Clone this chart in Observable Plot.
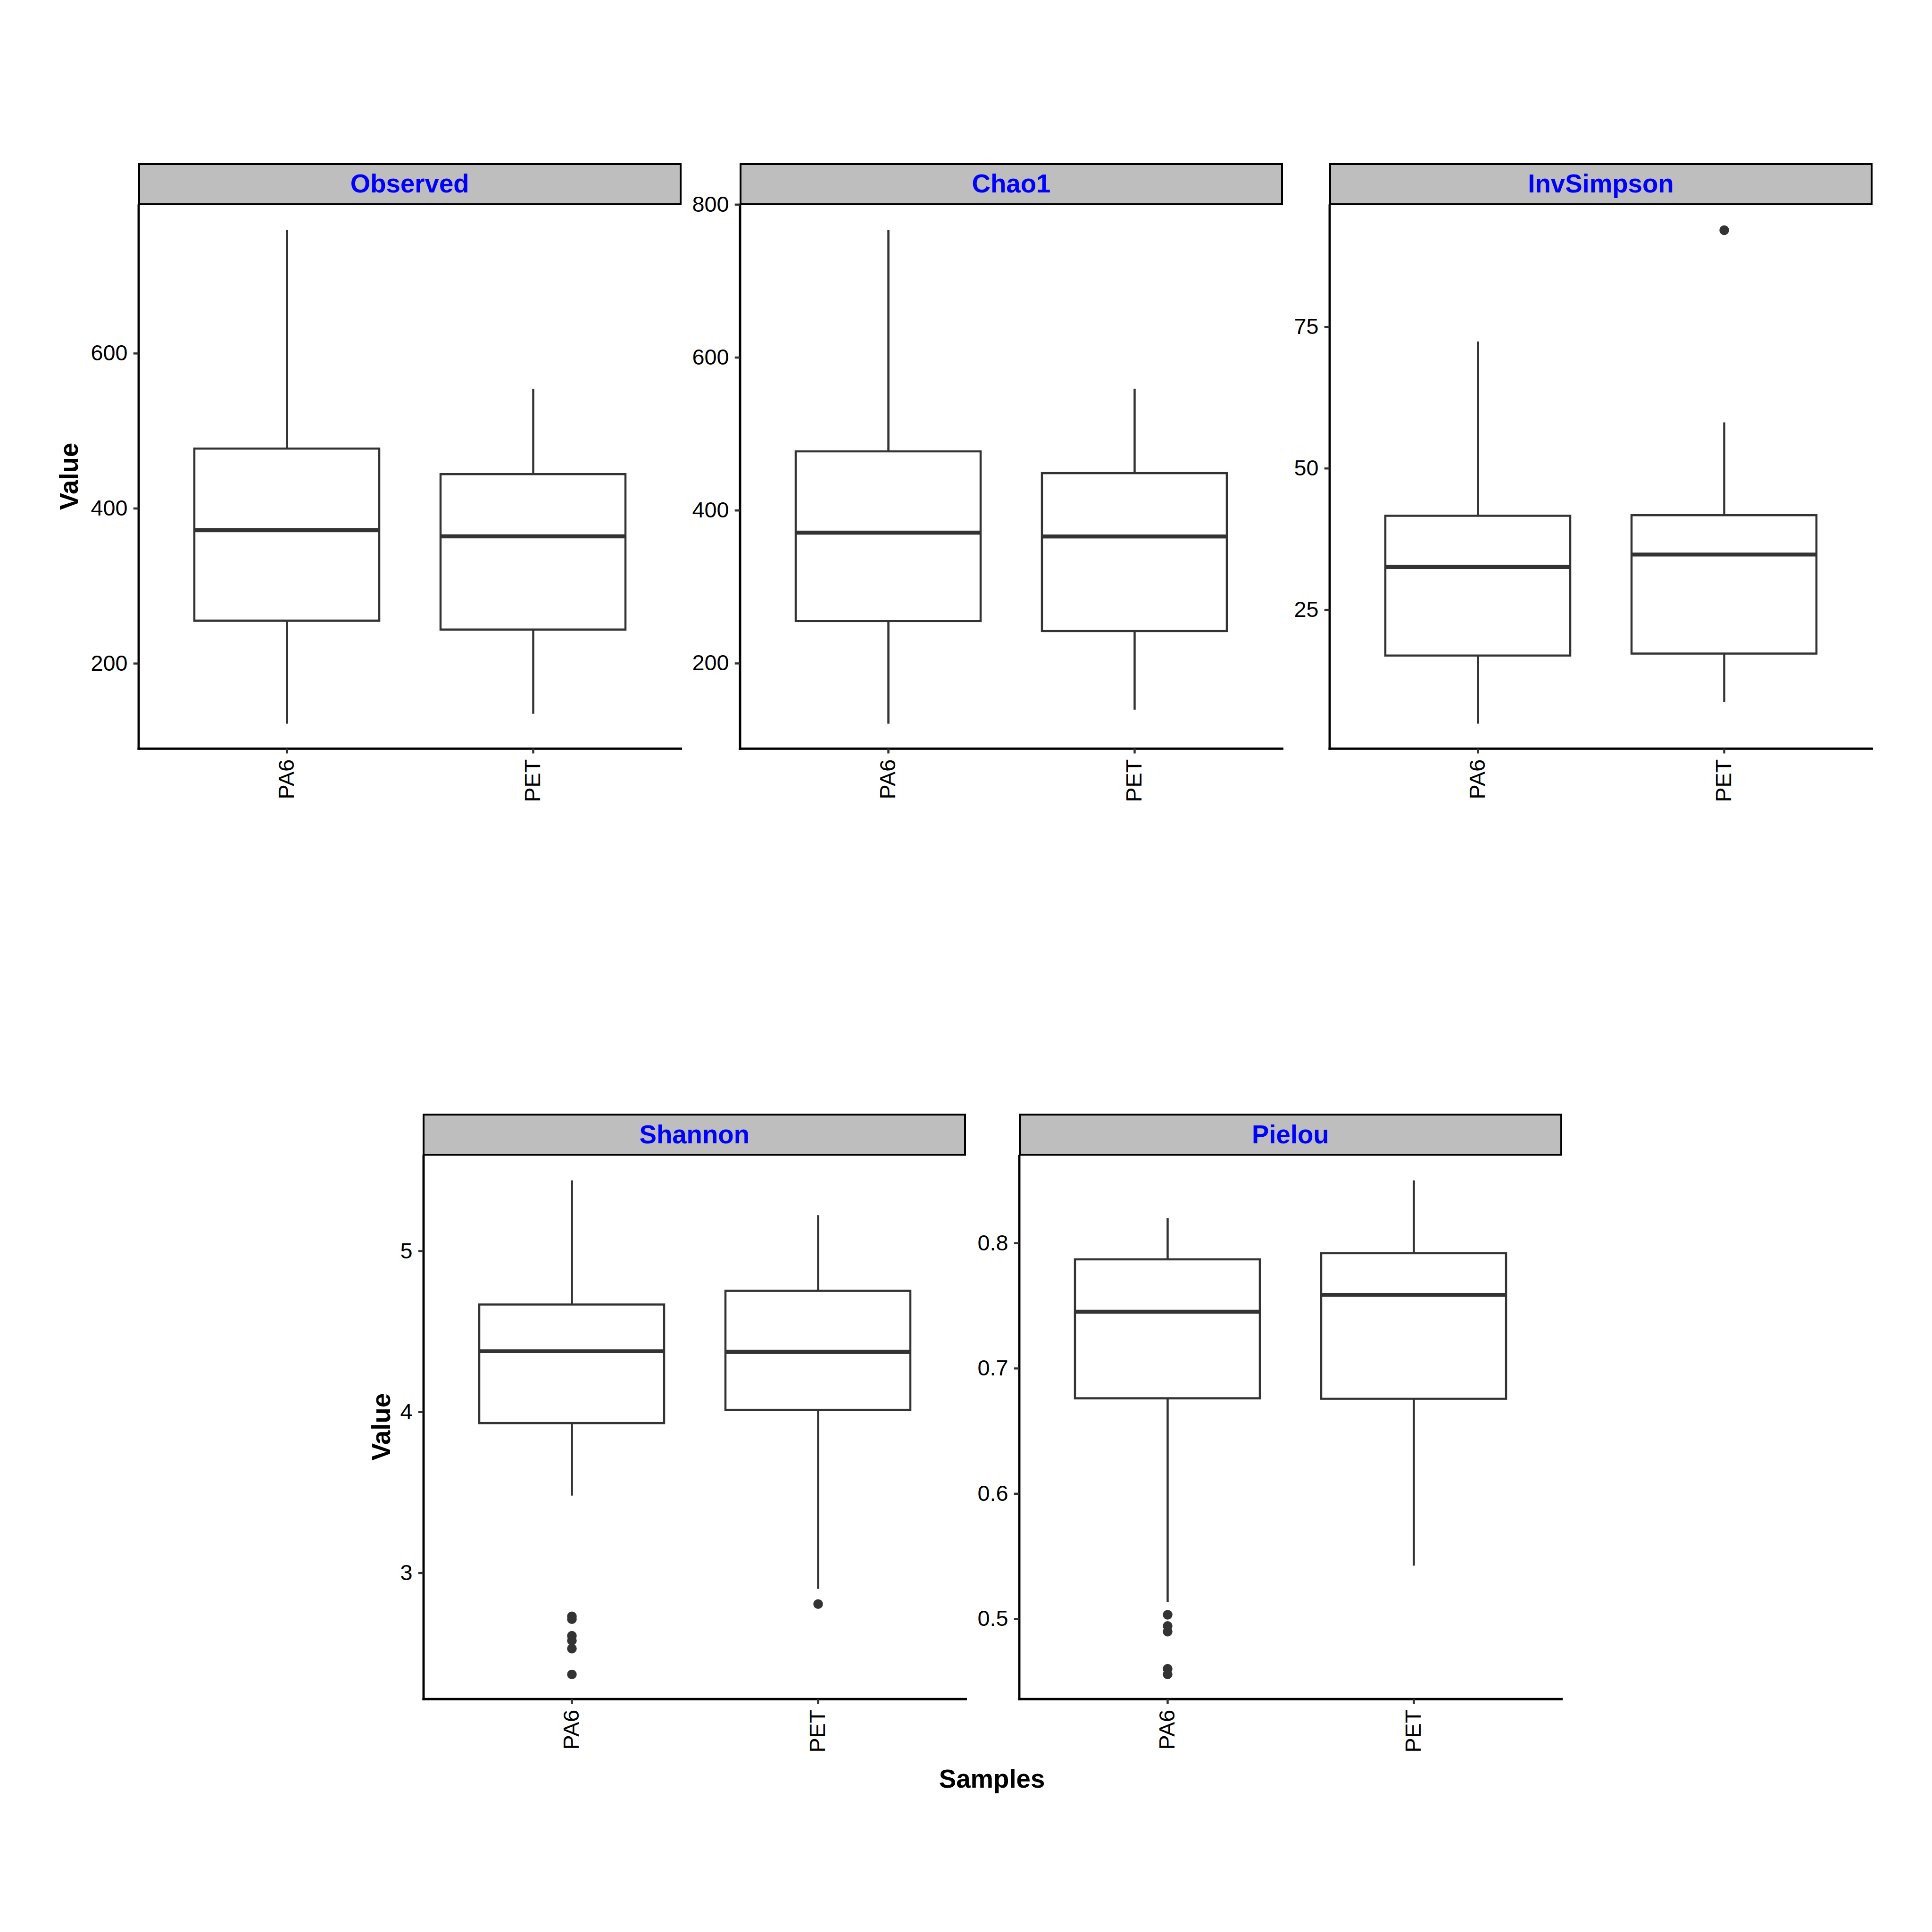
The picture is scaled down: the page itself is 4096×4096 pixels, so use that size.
<!DOCTYPE html>
<html>
<head>
<meta charset="utf-8">
<script src="https://cdn.jsdelivr.net/npm/d3@7"></script>
<script src="https://cdn.jsdelivr.net/npm/@observablehq/plot@0.6"></script>
<style>
  html, body { margin: 0; padding: 0; background: #ffffff; }
  #chart { position: relative; width: 4096px; height: 4096px; background: #ffffff; overflow: hidden;
           font-family: "Liberation Sans", Arial, Helvetica, sans-serif; }
  .panel { position: absolute; }
  .panel svg { max-width: none; display: block; }
  .strip { position: absolute; box-sizing: border-box; background: #bebebe; border-style: solid; border-color: #000000;
           display: flex; align-items: center; justify-content: center; color: #0000ff; font-weight: bold; line-height: 1; }
  .title { position: absolute; font-weight: bold; color: #000000; white-space: nowrap; line-height: 1; }
</style>
</head>
<body>
<div id="chart"></div>
<script>
// ---------------- data ----------------
const samples = ["PA6", "PET"];
const metricNames = ["Observed", "Chao1", "InvSimpson", "Shannon", "Pielou"];

// boxplot summaries per sample: [lower whisker, Q1, median, Q3, upper whisker]
const observedPA6 = [122, 255, 372, 477, 759];
const observedPET = [135, 243.5, 364, 444, 554];
const chao1PA6 = [120.8, 255, 371, 477, 766.5];
const chao1PET = [139, 242, 366, 448.5, 559];
const invSimpsonPA6 = [4.85, 16.9, 32.6, 41.6, 72.4];
const invSimpsonPET = [8.7, 17.25, 34.8, 41.7, 58.1];
const shannonPA6 = [3.48, 3.93, 4.378, 4.667, 5.438];
const shannonPET = [2.90, 4.012, 4.375, 4.752, 5.222];
const pielouPA6 = [0.5135, 0.676, 0.7453, 0.7869, 0.8199];
const pielouPET = [0.5424, 0.6756, 0.7588, 0.7918, 0.8499];

// outliers
const observedOutPA6 = [];
const observedOutPET = [];
const chao1OutPA6 = [];
const chao1OutPET = [];
const invSimpsonOutPA6 = [];
const invSimpsonOutPET = [92.1];
const shannonOutPA6 = [2.731, 2.713, 2.61, 2.58, 2.53, 2.37];
const shannonOutPET = [2.807];
const pielouOutPA6 = [0.5034, 0.4944, 0.4899, 0.4603, 0.4558];
const pielouOutPET = [];

// tick values
const observedTicks = [200, 400, 600];
const chao1Ticks = [200, 400, 600, 800];
const invSimpsonTicks = [25, 50, 75];
const shannonTicks = [3, 4, 5];
const pielouTicks = [0.5, 0.6, 0.7, 0.8];

const yTitle = "Value";
const xTitle = "Samples";

// ---------------- layout (reference pixels, scaled by S) ----------------
const S = 0.975;
const panelW = 1179, panelH = 1181, stripH = 91;
const panels = [
  {metric: metricNames[0], stats: [observedPA6, observedPET], outs: [observedOutPA6, observedOutPET], ticks: observedTicks, left: 301, top: 446},
  {metric: metricNames[1], stats: [chao1PA6, chao1PET], outs: [chao1OutPA6, chao1OutPET], ticks: chao1Ticks, left: 1609, top: 446},
  {metric: metricNames[2], stats: [invSimpsonPA6, invSimpsonPET], outs: [invSimpsonOutPA6, invSimpsonOutPET], ticks: invSimpsonTicks, left: 2891, top: 446},
  {metric: metricNames[3], stats: [shannonPA6, shannonPET], outs: [shannonOutPA6, shannonOutPET], ticks: shannonTicks, left: 920, top: 2513},
  {metric: metricNames[4], stats: [pielouPA6, pielouPET], outs: [pielouOutPA6, pielouOutPET], ticks: pielouTicks, left: 2216, top: 2513}
];

const chart = document.getElementById("chart");
const boxStroke = "#333333";
const fontFamily = "'Liberation Sans', Arial, Helvetica, sans-serif";
const lw = 4.6 * S;

for (const p of panels) {
  const boxes = samples.map((s, i) => ({
    sample: s, lo: p.stats[i][0], q1: p.stats[i][1], median: p.stats[i][2], q3: p.stats[i][3], hi: p.stats[i][4]
  }));
  const outs = samples.flatMap((s, i) => p.outs[i].map(v => ({sample: s, value: v})));
  const allVals = boxes.flatMap(b => [b.lo, b.hi]).concat(outs.map(o => o.value));
  const [mn, mx] = d3.extent(allVals);
  const pad = (mx - mn) * 0.05;

  const mL = 220 * S, mR = 30 * S, mT = 30 * S, mB = 220 * S;
  const svg = Plot.plot({
    width: mL + panelW * S + mR,
    height: mT + panelH * S + mB,
    marginLeft: mL, marginRight: mR, marginTop: mT, marginBottom: mB,
    style: {fontFamily, background: "transparent", overflow: "visible", color: "#000000"},
    x: {type: "band", domain: samples, paddingInner: 0.25, paddingOuter: 0.225},
    y: {domain: [mn - pad, mx + pad]},
    marks: [
      Plot.ruleX(boxes, {x: "sample", y1: "q3", y2: "hi", stroke: boxStroke, strokeWidth: lw}),
      Plot.ruleX(boxes, {x: "sample", y1: "lo", y2: "q1", stroke: boxStroke, strokeWidth: lw}),
      Plot.barY(boxes, {x: "sample", y1: "q1", y2: "q3", fill: "#ffffff", stroke: boxStroke, strokeWidth: lw}),
      Plot.tickY(boxes, {x: "sample", y: "median", stroke: boxStroke, strokeWidth: 8.5 * S}),
      Plot.dot(outs, {x: "sample", y: "value", r: 10.5 * S, fill: boxStroke}),
      Plot.frame({anchor: "left", stroke: "#000000", strokeWidth: 5 * S}),
      Plot.frame({anchor: "bottom", stroke: "#000000", strokeWidth: 5 * S}),
      Plot.axisY(p.ticks, {tickSize: 11 * S, tickPadding: 13 * S, fontSize: 48 * S, stroke: boxStroke,
                           strokeWidth: lw, fill: "#000000", label: null, fontFamily, tickFormat: d => String(d)}),
      Plot.axisX({tickRotate: -90, tickSize: 11 * S, tickPadding: 12 * S, fontSize: 48 * S, stroke: boxStroke,
                  strokeWidth: lw, fill: "#000000", label: null, fontFamily})
    ]
  });
  const wrap = document.createElement("div");
  wrap.className = "panel";
  wrap.style.left = (p.left * S - mL) + "px";
  wrap.style.top = (p.top * S - mT) + "px";
  wrap.appendChild(svg);
  chart.appendChild(wrap);

  const strip = document.createElement("div");
  strip.className = "strip";
  strip.style.left = ((p.left - 1) * S) + "px";
  strip.style.top = ((p.top - stripH) * S) + "px";
  strip.style.width = ((panelW + 3) * S) + "px";
  strip.style.height = (stripH * S) + "px";
  strip.style.borderWidth = (4.5 * S) + "px";
  strip.style.fontSize = (56 * S) + "px";
  strip.textContent = p.metric;
  chart.appendChild(strip);
}

function addTitle(text, cx, cy, rotate) {
  const t = document.createElement("div");
  t.className = "title";
  t.style.left = (cx * S) + "px";
  t.style.top = (cy * S) + "px";
  t.style.fontSize = (56 * S) + "px";
  t.style.transform = "translate(-50%, -50%)" + (rotate ? " rotate(-90deg)" : "");
  t.textContent = text;
  chart.appendChild(t);
}
addTitle(yTitle, 151, 1036, true);
addTitle(yTitle, 830, 3103, true);
addTitle(xTitle, 2157, 3869, false);
</script>
</body>
</html>
